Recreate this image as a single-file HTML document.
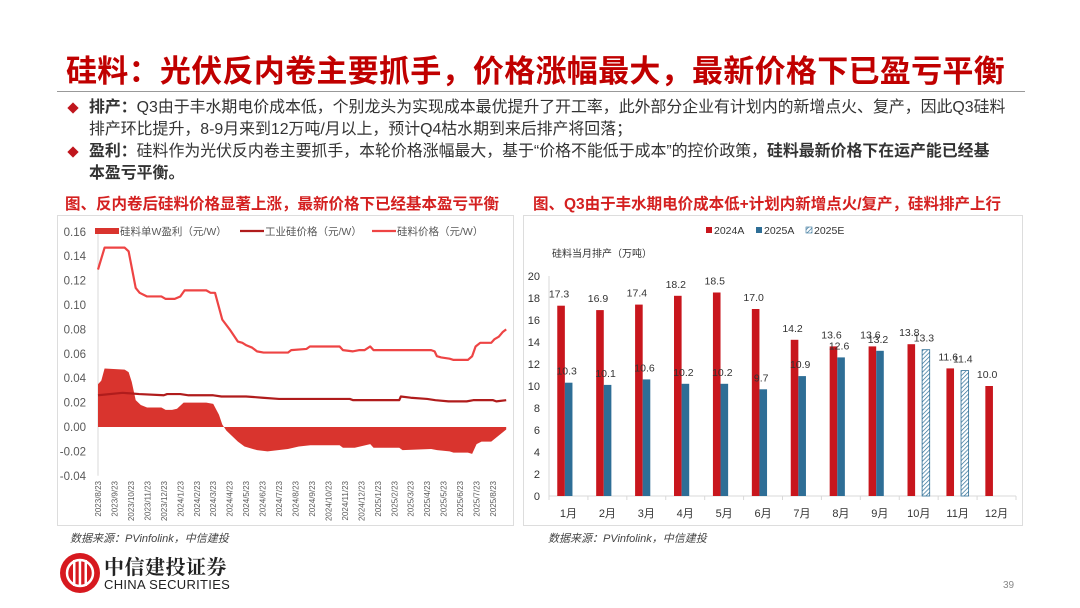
<!DOCTYPE html>
<html><head><meta charset="utf-8">
<style>
body{margin:0;background:#fff;}
#page{position:relative;width:1080px;height:608px;overflow:hidden;background:#fff;font-family:"Liberation Sans","Noto Sans CJK SC",sans-serif;}
.abs{position:absolute;white-space:nowrap;}
#title{left:66px;top:46px;font-size:31px;font-weight:bold;color:#c00000;letter-spacing:0.3px;}
#rule{left:57px;top:91px;width:968px;height:1px;background:#999;}
.bl{left:89px;font-size:15.9px;color:#333;line-height:22px;}
.dia{width:8px;height:8px;background:#c0161d;transform:rotate(45deg);}
.cap{top:192px;font-size:15.5px;font-weight:bold;color:#d42020;}
.src{font-size:11px;font-style:italic;color:#444;}
</style></head>
<body>
<div id="page">
<div class="abs" id="title">硅料：光伏反内卷主要抓手，价格涨幅最大，最新价格下已盈亏平衡</div>
<div class="abs" id="rule"></div>
<div class="abs dia" style="left:69px;top:104px"></div>
<div class="abs bl" style="top:97px"><b>排产：</b>Q3由于丰水期电价成本低，个别龙头为实现成本最优提升了开工率，此外部分企业有计划内的新增点火、复产，因此Q3硅料<br>排产环比提升，8-9月来到12万吨/月以上，预计Q4枯水期到来后排产将回落；</div>
<div class="abs dia" style="left:69px;top:148px"></div>
<div class="abs bl" style="top:141px"><b>盈利：</b>硅料作为光伏反内卷主要抓手，本轮价格涨幅最大，基于“价格不能低于成本”的控价政策，<b>硅料最新价格下在运产能已经基<br>本盈亏平衡。</b></div>
<div class="abs cap" style="left:65px">图、反内卷后硅料价格显著上涨，最新价格下已经基本盈亏平衡</div>
<div class="abs cap" style="left:533px">图、Q3由于丰水期电价成本低+计划内新增点火/复产，硅料排产上行</div>
<div class="abs" style="left:57px;top:215px;width:457px;height:311px;border:1px solid #ddd;box-sizing:border-box"></div>
<div class="abs" style="left:523px;top:215px;width:500px;height:311px;border:1px solid #ddd;box-sizing:border-box"></div>
<svg class="abs" style="left:0;top:0" width="1080" height="608" id="charts"></svg>
<div class="abs src" style="left:70px;top:530px">数据来源：PVinfolink，中信建投</div>
<div class="abs src" style="left:548px;top:530px">数据来源：PVinfolink，中信建投</div>
<svg class="abs" style="left:59px;top:552px" width="42" height="42">
<circle cx="21" cy="21" r="20" fill="#d7191f"/><circle cx="21" cy="21" r="13" fill="none" stroke="#fff" stroke-width="2.5"/>
<rect x="14" y="8" width="2.5" height="26" fill="#fff"/><rect x="19.7" y="8" width="2.5" height="26" fill="#fff"/><rect x="25.5" y="8" width="2.5" height="26" fill="#fff"/></svg>
<div class="abs" style="left:104px;top:551px;font-size:20px;font-weight:bold;color:#222;font-family:'Noto Serif CJK SC',serif;letter-spacing:0.5px">中信建投证券</div>
<div class="abs" style="left:104px;top:577px;font-size:13px;color:#222;letter-spacing:0.3px">CHINA SECURITIES</div>
<div class="abs" style="left:1003px;top:580px;font-size:10px;color:#888">39</div>
</div>
<script>
// ---- Left chart data (t = months since 2023/8/23) ----
const polyT=[0,0.40,1.62,1.86,2.29,2.53,2.98,3.85,4.11,4.66,5.00,5.26,6.58,6.84,7.11,7.55,8.00,8.50,8.77,9.01,9.37,9.66,10.06,11.54,11.74,12.67,12.87,14.68,14.88,15.49,15.85,16.19,16.54,16.74,20.24,20.45,20.59,20.85,21.36,21.60,22.47,22.73,22.94,23.22,23.89,24.09,24.35,24.60,24.80];
const polyV=[0.129,0.147,0.147,0.144,0.114,0.110,0.107,0.107,0.105,0.105,0.107,0.112,0.112,0.110,0.110,0.088,0.080,0.070,0.069,0.067,0.065,0.062,0.061,0.061,0.063,0.064,0.066,0.066,0.063,0.062,0.063,0.063,0.066,0.063,0.063,0.062,0.058,0.057,0.056,0.055,0.055,0.058,0.066,0.069,0.069,0.072,0.074,0.078,0.080];
const indT=[0,1.5,2.5,4,4.2,5,5.5,7,7.5,8.5,9,10,11,15.3,15.5,18.3,18.4,19,20,20.5,21.3,22.4,22.8,24,24.2,24.8];
const indV=[0.026,0.028,0.027,0.026,0.027,0.027,0.026,0.026,0.025,0.025,0.025,0.024,0.023,0.023,0.022,0.022,0.025,0.024,0.023,0.022,0.021,0.021,0.022,0.022,0.021,0.022];
const profT=[0,0.2,0.4,1.62,1.86,2.05,2.29,2.6,2.98,3.85,4.11,4.5,4.8,5.2,6.0,6.58,7.0,7.35,7.55,7.8,8.5,8.9,9.66,10.3,11.54,12.2,12.9,14.68,14.88,15.6,16.54,16.74,18.3,18.5,20.24,20.6,21.36,21.6,22.47,22.73,23.0,23.3,23.89,24.35,24.80];
const profV=[0.035,0.038,0.048,0.047,0.045,0.037,0.022,0.018,0.016,0.016,0.014,0.014,0.015,0.020,0.020,0.020,0.019,0.010,0.002,-0.003,-0.012,-0.016,-0.019,-0.020,-0.018,-0.016,-0.015,-0.015,-0.017,-0.017,-0.014,-0.017,-0.017,-0.019,-0.018,-0.019,-0.020,-0.021,-0.021,-0.022,-0.014,-0.012,-0.012,-0.007,-0.002];
const leftYTicks=[0.16,0.14,0.12,0.10,0.08,0.06,0.04,0.02,0.00,-0.02,-0.04];
const leftXLabels=["2023/8/23","2023/9/23","2023/10/23","2023/11/23","2023/12/23","2024/1/23","2024/2/23","2024/3/23","2024/4/23","2024/5/23","2024/6/23","2024/7/23","2024/8/23","2024/9/23","2024/10/23","2024/11/23","2024/12/23","2025/1/23","2025/2/23","2025/3/23","2025/4/23","2025/5/23","2025/6/23","2025/7/23","2025/8/23"];
// ---- Right chart data ----
const months=["1月","2月","3月","4月","5月","6月","7月","8月","9月","10月","11月","12月"];
const s2024A=[17.3,16.9,17.4,18.2,18.5,17.0,14.2,13.6,13.6,13.8,11.6,10.0];
const s2025A=[10.3,10.1,10.6,10.2,10.2,9.7,10.9,12.6,13.2,null,null,null];
const s2025E=[null,null,null,null,null,null,null,null,null,13.3,11.4,null];
const rightYTicks=[0,2,4,6,8,10,12,14,16,18,20];

const NS="http://www.w3.org/2000/svg";
const svg=document.getElementById('charts');
function mk(tag,attrs,parent){const e=document.createElementNS(NS,tag);for(const k in attrs)e.setAttribute(k,attrs[k]);(parent||svg).appendChild(e);return e;}
const defs=mk('defs',{});
const pat=mk('pattern',{id:'hatch',width:3,height:3,patternUnits:'userSpaceOnUse',patternTransform:'rotate(45)'},defs);
mk('rect',{width:3,height:3,fill:'#fff'},pat);mk('line',{x1:0,y1:0,x2:0,y2:3,stroke:'#2e6e96','stroke-width':1.4},pat);

// Left axes
const lx=t=>98+t*16.46;
const ly=v=>427-v*(244/0.2);
leftYTicks.forEach(v=>{const e=mk('text',{x:86,y:ly(v)+4,'text-anchor':'end','font-size':11.5,fill:'#595959'});e.textContent=v.toFixed(2);

});
const ya=mk('line',{x1:98,y1:ly(0.16),x2:98,y2:ly(-0.04),stroke:'#d9d9d9'});


leftXLabels.forEach((s,i)=>{const x=lx(i)+3;const e=mk('text',{x:x,y:481,'text-anchor':'end','font-size':8,fill:'#595959',transform:`rotate(-90 ${x} 481)`});e.textContent=s;

});
// profit area
let d=`M${lx(profT[0])},${ly(0)}`;profT.forEach((t,i)=>d+=`L${lx(t)},${ly(profV[i])}`);d+=`L${lx(profT[profT.length-1])},${ly(0)}Z`;
const area=mk('path',{d:d,fill:'#d9342e'});


const pl=(T,V,c,n)=>{const p=mk('polyline',{points:T.map((t,i)=>lx(t)+','+ly(V[i])).join(' '),fill:'none',stroke:c,'stroke-width':2.2,'stroke-linejoin':'round'});

};
pl(indT,indV,'#b01c1c','industrial-silicon-line');
pl(polyT,polyV,'#ee4444','polysilicon-price-line');
// left legend
const lg=[["area","#d9342e","硅料单W盈利（元/W）",95],["line","#b01c1c","工业硅价格（元/W）",240],["line","#ee4444","硅料价格（元/W）",372]];
lg.forEach(g=>{const grp=mk('g',{});


if(g[0]=="area")mk('rect',{x:g[3],y:228,width:24,height:6,fill:g[1]},grp);else mk('line',{x1:g[3],y1:231,x2:g[3]+24,y2:231,stroke:g[1],'stroke-width':2.2},grp);
const t=mk('text',{x:g[3]+25,y:235,'font-size':10.5,fill:'#595959'},grp);t.textContent=g[2];});

// Right axes
const rx0=549,cw=(1016-549)/12;
const ry=v=>496-v*11;
rightYTicks.forEach(v=>{const e=mk('text',{x:540,y:ry(v)+4,'text-anchor':'end','font-size':11,fill:'#333'});e.textContent=v;

});
mk('line',{x1:549,y1:ry(20),x2:549,y2:496,stroke:'#d9d9d9'});
const xa=mk('line',{x1:549,y1:496,x2:1016,y2:496,stroke:'#d9d9d9'});


for(let i=0;i<=12;i++)mk('line',{x1:rx0+i*cw,y1:496,x2:rx0+i*cw,y2:500,stroke:'#d9d9d9'});
months.forEach((m,i)=>{const e=mk('text',{x:rx0+(i+0.5)*cw,y:517,'text-anchor':'middle','font-size':11,fill:'#333'});e.textContent=m;

});
const bw=7.6;
function bars(arr,off,fill,stroke,name){arr.forEach((v,i)=>{if(v==null)return;const c=rx0+(i+0.5)*cw;
const r=mk('rect',{x:c+off,y:ry(v),width:bw,height:ry(0)-ry(v),fill:fill,stroke:stroke||'none','stroke-width':0.8});


const t=mk('text',{x:c+off+bw/2-2,y:ry(v)-8,'text-anchor':'middle','font-size':10.5,fill:'#333'});t.textContent=v.toFixed(1);

});}
bars(s2024A,-11.2,'#c8161d',null,'bar-2024a');
bars(s2025A,-3.6,'#2e6e96',null,'bar-2025a');
bars(s2025E,3.4,'url(#hatch)','#2e6e96','bar-2025e');
const rl=[["#c8161d","2024A",706],["#2e6e96","2025A",756],["hatch","2025E",806]];
rl.forEach(g=>{const grp=mk('g',{});


mk('rect',{x:g[2],y:227,width:6,height:6,fill:g[0]=="hatch"?"url(#hatch)":g[0],stroke:g[0]=="hatch"?"#2e6e96":"none",'stroke-width':0.6},grp);
const t=mk('text',{x:g[2]+8,y:234,'font-size':10.5,fill:'#333'},grp);t.textContent=g[1];});
const yt=mk('text',{x:552,y:257,'font-size':10,fill:'#333'});yt.textContent="硅料当月排产（万吨）";


</script>
</body></html>
